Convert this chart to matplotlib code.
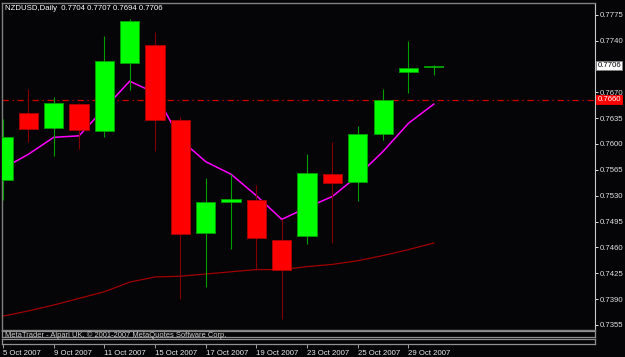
import matplotlib
matplotlib.use("Agg")
import matplotlib.pyplot as plt
from matplotlib.transforms import blended_transform_factory

# ---- data ----
dates = ["5 Oct", "8 Oct", "9 Oct", "10 Oct", "11 Oct", "12 Oct", "15 Oct", "16 Oct",
         "17 Oct", "18 Oct", "19 Oct", "22 Oct", "23 Oct", "24 Oct", "25 Oct", "26 Oct",
         "29 Oct", "30 Oct"]
opens  = [0.7551, 0.7642, 0.7622, 0.7654, 0.7618, 0.7710, 0.7734, 0.7633, 0.7479,
          0.7522, 0.7524, 0.7470, 0.7475, 0.7559, 0.7548, 0.7613, 0.7698, 0.7704]
highs  = [0.7634, 0.7674, 0.7663, 0.7655, 0.7746, 0.7769, 0.7751, 0.7636, 0.7554,
          0.7559, 0.7545, 0.7498, 0.7587, 0.7602, 0.7624, 0.7674, 0.7739, 0.7707]
lows   = [0.7524, 0.7603, 0.7584, 0.7593, 0.7610, 0.7673, 0.7591, 0.7390, 0.7407,
          0.7458, 0.7430, 0.7363, 0.7465, 0.7466, 0.7523, 0.7605, 0.7669, 0.7694]
closes = [0.7609, 0.7620, 0.7656, 0.7619, 0.7712, 0.7767, 0.7632, 0.7478, 0.7522,
          0.7525, 0.7473, 0.7430, 0.7561, 0.7547, 0.7614, 0.7660, 0.7703, 0.7706]
ma_fast = [0.7567, 0.7586, 0.7609, 0.7611, 0.7648, 0.7685, 0.7669, 0.7606, 0.7576,
           0.7559, 0.7530, 0.7498, 0.7514, 0.7529, 0.7557, 0.7590, 0.7628, 0.7654]
ma_slow = [0.7367, 0.7374, 0.7382, 0.7391, 0.7400, 0.7413, 0.7420, 0.7421, 0.7424,
           0.7427, 0.7430, 0.7430, 0.7434, 0.7437, 0.7442, 0.7449, 0.7457, 0.7466]
level_line = 0.7660
bid = 0.7706
price_ticks = [0.7775, 0.7740, 0.7670, 0.7635, 0.7600, 0.7565, 0.7530, 0.7495,
               0.7460, 0.7425, 0.7390, 0.7355]
date_tick_idx = [0, 2, 4, 6, 8, 10, 12, 14, 16]
date_tick_labels = ["5 Oct 2007", "9 Oct 2007", "11 Oct 2007", "15 Oct 2007",
                    "17 Oct 2007", "19 Oct 2007", "23 Oct 2007", "25 Oct 2007",
                    "29 Oct 2007"]
header = "NZDUSD,Daily  0.7704 0.7707 0.7694 0.7706"
footer = "MetaTrader - Alpari UK, \u00a9 2001-2007 MetaQuotes Software Corp."

# ---- figure ----
W, H = 625, 357
BG = "#050406"
plt.rcParams["font.family"] = ["Liberation Sans", "DejaVu Sans"]
fig = plt.figure(figsize=(W / 100, H / 100), dpi=100, facecolor=BG)
FS = 5.6

def px_axes(x0, y0, x1, y1):
    return fig.add_axes([x0 / W, 1 - y1 / H, (x1 - x0) / W, (y1 - y0) / H])

ax = px_axes(2, 3, 595, 330)
ax.set_facecolor(BG)
x = list(range(len(dates)))
ax.set_xlim(-0.04, 23.36)
ax.set_ylim(0.73482, 0.77908)

# level line
ax.axhline(level_line, color="#d00000", lw=0.9, dashes=(5, 3, 1, 3), zorder=1)
# moving averages
ax.plot(x, ma_slow, color="#a00000", lw=0.9, zorder=2)
ax.plot(x, ma_fast, color="#ff00ff", lw=1.1, zorder=2)

# candles
bw = 0.76
for i in x:
    o, h, l, c = opens[i], highs[i], lows[i], closes[i]
    up = c >= o
    wick_col = "#00a000" if up else "#800000"
    body_col = "#00ff00" if up else "#ff0000"
    edge_col = "#00a000" if up else "#b00000"
    ax.vlines(i, l, h, color=wick_col, lw=0.8, zorder=3)
    bottom = min(o, c)
    height = max(abs(c - o), 0.00012)
    ax.bar(i, height, bottom=bottom, width=bw, color=body_col, edgecolor=edge_col,
           linewidth=0.6, zorder=4)

# spines and right axis
for s in ["left", "top", "bottom"]:
    ax.spines[s].set_color("#808080")
    ax.spines[s].set_linewidth(1.0)
ax.spines["right"].set_color("#c8c8c8")
ax.spines["right"].set_linewidth(0.8)
ax.set_xticks([])
ax.yaxis.tick_right()
ax.set_yticks(price_ticks)
ax.set_yticklabels([f"{v:.4f}" for v in price_ticks])
ax.tick_params(axis="y", colors="#e0e0e0", labelsize=FS, length=2, width=0.7,
               pad=1.2, direction="out")
ax.tick_params(axis="y", which="both", left=False)

tr = blended_transform_factory(ax.transAxes, ax.transData)
ax.text(1.004, bid, f"{bid:.4f}", transform=tr, fontsize=FS, color="black",
        va="center", ha="left",
        bbox=dict(boxstyle="square,pad=0.15", fc="white", ec="#808080", lw=0.6))
ax.text(1.004, level_line, f"{level_line:.4f}", transform=tr, fontsize=FS,
        color="white", va="center", ha="left",
        bbox=dict(boxstyle="square,pad=0.15", fc="#ff0000", ec="#ff0000", lw=0.6))

# header
fig.text(5 / W, 1 - 9 / H, header, fontsize=FS, color="white", va="center", ha="left")

# indicator strips
s1 = px_axes(2, 331, 595, 337)
s2 = px_axes(2, 339, 595, 344)
for s in (s1, s2):
    s.set_facecolor(BG)
    s.set_xlim(ax.get_xlim())
    s.set_yticks([])
    for sp in s.spines.values():
        sp.set_color("#909090")
        sp.set_linewidth(0.9)
s1.set_xticks([])
s2.set_xticks(date_tick_idx)
s2.set_xticklabels(date_tick_labels, ha="left")
s2.tick_params(axis="x", colors="#a0a0a0", labelcolor="#e8e8e8", labelsize=FS,
               length=3, width=0.7, pad=1.0, direction="out")

fig.text(5 / W, 1 - 335 / H, footer, fontsize=5.4, color="#d0d0d0", va="center",
         ha="left")

fig.savefig("out.png", dpi=100, facecolor=BG)
